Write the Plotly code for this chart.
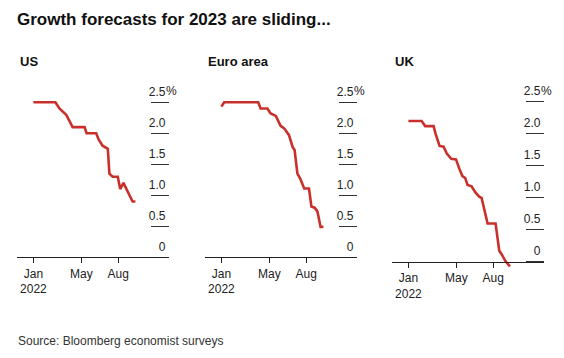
import plotly.graph_objects as go

W, H = 564, 358

# ---------------- data ----------------
us_dates = ["2022-01-01", "2022-02-25", "2022-03-07", "2022-03-15", "2022-03-24", "2022-04-01",
            "2022-04-09", "2022-05-09", "2022-05-14", "2022-06-07", "2022-06-13", "2022-06-23",
            "2022-07-06", "2022-07-10", "2022-07-18", "2022-07-31", "2022-08-06", "2022-08-14",
            "2022-08-25", "2022-09-06", "2022-09-13"]
us_vals = [2.5, 2.5, 2.4, 2.35, 2.3, 2.2, 2.1, 2.1, 2.0, 2.0, 1.9, 1.8,
           1.75, 1.35, 1.3, 1.3, 1.1, 1.2, 1.05, 0.9, 0.9]

eu_dates = ["2022-01-01", "2022-01-08", "2022-04-03", "2022-04-09", "2022-04-26", "2022-05-04",
            "2022-05-17", "2022-05-29", "2022-06-07", "2022-06-15", "2022-06-19", "2022-06-28",
            "2022-07-03", "2022-07-10", "2022-07-17", "2022-07-27", "2022-08-08", "2022-08-14",
            "2022-08-22", "2022-08-29", "2022-09-06", "2022-09-13"]
eu_vals = [2.43, 2.5, 2.5, 2.4, 2.4, 2.32, 2.28, 2.12, 2.08, 2.0, 1.97, 1.78,
           1.73, 1.35, 1.27, 1.11, 1.11, 0.82, 0.8, 0.74, 0.49, 0.49]

uk_dates = ["2022-01-01", "2022-02-03", "2022-02-12", "2022-03-05", "2022-03-10", "2022-03-20",
            "2022-03-30", "2022-04-07", "2022-04-18", "2022-04-30", "2022-05-08", "2022-05-16",
            "2022-05-23", "2022-05-29", "2022-06-08", "2022-06-17", "2022-06-27", "2022-07-03",
            "2022-07-12", "2022-07-18", "2022-08-07", "2022-08-16", "2022-08-24", "2022-09-01",
            "2022-09-12"]
uk_vals = [2.2, 2.2, 2.12, 2.12, 2.0, 1.81, 1.8, 1.69, 1.61, 1.6, 1.46, 1.34,
           1.31, 1.2, 1.18, 1.09, 1.02, 1.0, 0.76, 0.6, 0.6, 0.18, 0.1, 0.01, -0.07]

panel_titles = ["US", "Euro area", "UK"]
x_tickvals = ["2022-01-01", "2022-05-01", "2022-08-01"]
x_ticktext = ["Jan<br>2022", "May", "Aug"]
y_tickvals = [0, 0.5, 1.0, 1.5, 2.0, 2.5]
y_ticktext = ["0", "0.5", "1.0", "1.5", "2.0", "2.5"]

title = "Growth forecasts for 2023 are sliding..."
source = "Source: Bloomberg economist surveys"

# ---------------- style ----------------
RED = "#c9302c"
INK = "#222222"
FONT = "Liberation Sans, Arial, sans-serif"
X_RANGE = ["2021-11-21", "2022-12-06"]


def px(v):
    return v / W


def py(v):
    return 1 - v / H


fig = go.Figure()

series = [(us_dates, us_vals), (eu_dates, eu_vals), (uk_dates, uk_vals)]
for i, (d, v) in enumerate(series):
    s = "" if i == 0 else str(i + 1)
    fig.add_trace(go.Scatter(x=d, y=v, mode="lines", xaxis="x" + s, yaxis="y" + s,
                             line=dict(color=RED, width=2.6), showlegend=False,
                             hoverinfo="skip"))

x_domains = [(17, 169), (205, 357), (392, 544)]
# (bottom px, px per unit, range)
y_specs = [(257.3, 62.0, [0, 2.85]), (257.3, 62.0, [0, 2.85]), (271.6, 64.1, [-0.15, 2.85])]

layout = dict(
    width=W, height=H,
    margin=dict(l=0, r=0, t=0, b=0),
    paper_bgcolor="white", plot_bgcolor="white",
    font=dict(family=FONT, color=INK, size=12),
    showlegend=False,
)

annotations = []
for i in range(3):
    s = "" if i == 0 else str(i + 1)
    x0, x1 = x_domains[i]
    yb, ppu, yr = y_specs[i]
    yt = yb - (yr[1] - yr[0]) * ppu
    xa = dict(
        domain=[px(x0), px(x1)], range=X_RANGE, type="date",
        tickvals=x_tickvals, ticktext=x_ticktext,
        ticks="outside", ticklen=5, tickcolor=INK, tickwidth=1,
        showline=True, linecolor=INK, linewidth=1,
        showgrid=False, zeroline=False,
        tickfont=dict(size=12, color=INK, family=FONT),
    )
    if i == 2:
        xa.update(anchor="free", position=py(262.0))
    else:
        xa.update(anchor="y" + s)
    ya = dict(
        domain=[py(yb), py(yt)], range=yr, anchor="x" + s, side="right",
        tickvals=y_tickvals, ticktext=y_ticktext,
        ticks="inside", ticklen=18, tickcolor="#333333", tickwidth=1,
        ticklabelposition="inside", ticklabelshift=-11, ticklabelstandoff=-15,
        showline=False, showgrid=False, zeroline=False,
        tickfont=dict(size=12, color=INK, family=FONT),
    )
    layout["xaxis" + s] = xa
    layout["yaxis" + s] = ya

    annotations.append(dict(
        text="%", xref="x" + s + " domain", yref="y" + s, x=1, y=2.5,
        xanchor="left", yanchor="middle", xshift=-5, yshift=11, showarrow=False,
        font=dict(size=12, color=INK, family=FONT)))
    annotations.append(dict(
        text="<b>" + panel_titles[i] + "</b>", xref="paper", yref="paper",
        x=px(x0 + 1), y=py(61.5), xanchor="left", yanchor="middle", showarrow=False,
        font=dict(size=13, color="#111111", family=FONT)))

annotations.append(dict(
    text="<b>" + title + "</b>", xref="paper", yref="paper", x=px(15), y=py(19.5),
    xanchor="left", yanchor="middle", showarrow=False,
    font=dict(size=17, color="#111111", family=FONT)))
annotations.append(dict(
    text=source, xref="paper", yref="paper", x=px(16), y=py(341),
    xanchor="left", yanchor="middle", showarrow=False,
    font=dict(size=12, color="#333333", family=FONT)))

layout["annotations"] = annotations
fig.update_layout(**layout)
fig.write_html("out.html", config={"displayModeBar": False},
               post_script="document.body.style.margin='0px';document.body.style.overflow='hidden';")
